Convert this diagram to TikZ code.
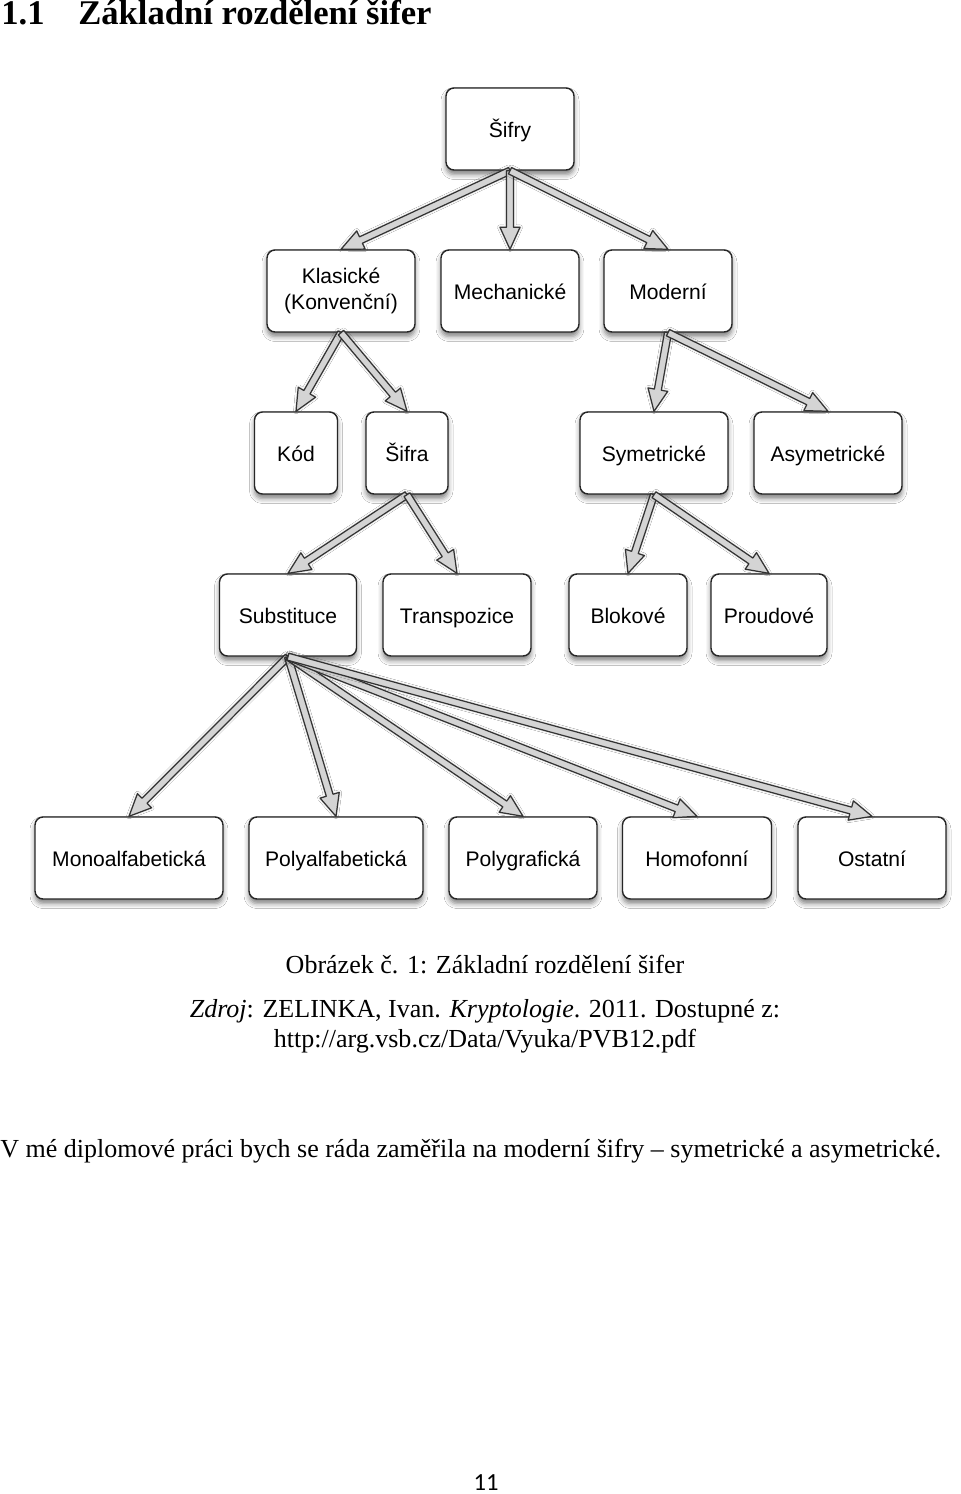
\documentclass[tikz,border=0pt]{standalone}
\usepackage{fontspec}
\setmainfont{Liberation Serif}
\newfontfamily\boxfont{Liberation Sans}
\newfontfamily\pagefont{Carlito}
\usetikzlibrary{calc,shadows.blur}
\tikzset{
  boxbase/.style={draw=black!85, line width=0.8pt, rounded corners=0.16cm, fill=white,
    minimum height=1.64cm, align=center, font=\boxfont\fontsize{12}{14.8}\selectfont,
    blur shadow={shadow xshift=0cm, shadow yshift=-0.09cm, shadow blur radius=0.1cm, shadow opacity=50}},
  box/.style={boxbase, text height=9.6pt, text depth=0pt},
  fatline/.style={draw=black!80, line width=0.7pt, fill=black!17, line join=round,
    blur shadow={shadow xshift=0cm, shadow yshift=0cm, shadow blur radius=0.05cm, shadow opacity=25}},
  bodytext/.style={inner sep=0pt, anchor=base, font=\fontsize{14.8}{17}\selectfont},
}
\def\fatarrow(#1)(#2){%
  \coordinate (h) at ($(#2)!0.44cm!(#1)$);
  \draw[fatline] ($(#1)!0.07cm!90:(#2)$) -- ($(h)!0.07cm!-90:(#1)$) -- ($(h)!0.2cm!-90:(#1)$) -- (#2)
    -- ($(h)!0.2cm!90:(#1)$) -- ($(h)!0.07cm!90:(#1)$) -- ($(#1)!0.07cm!-90:(#2)$) -- cycle;}

\begin{document}
\begin{tikzpicture}[x=0.02cm, y=-0.02cm]
		%%%%% PAGE %%%%%
		\fill[white] (0,0) rectangle (960,1494);
		\useasboundingbox (0,0) rectangle (960,1494);
		
		\node[inner sep=0pt, anchor=base west, font=\bfseries\fontsize{19.7}{22}\selectfont] (secnum) at (1,25) {1.1};
		\node[inner sep=0pt, anchor=base west, font=\bfseries\fontsize{19.7}{22}\selectfont] (sectitle) at (78,25) {Základní rozdělení šifer};
		
		%%%%% BOXES %%%%%
		\node[box, minimum width=2.56cm] (sifry) at (510,129) {Šifry};
		
		\node[boxbase, minimum width=2.96cm] (klas) at (341,291) {Klasické\\(Konvenční)};
		\node[box, minimum width=2.76cm] (mech) at (510,291) {Mechanické};
		\node[box, minimum width=2.56cm] (mod) at (668,291) {Moderní};
		
		\node[box, minimum width=1.66cm] (kod) at (296,453) {Kód};
		\node[box, minimum width=1.64cm] (sifra) at (407,453) {Šifra};
		\node[box, minimum width=2.96cm] (sym) at (654,453) {Symetrické};
		\node[box, minimum width=2.96cm] (asym) at (828,453) {Asymetrické};
		
		\node[box, minimum width=2.74cm] (subst) at (288,615) {Substituce};
		\node[box, minimum width=2.96cm] (transp) at (457,615) {Transpozice};
		\node[box, minimum width=2.36cm] (blok) at (628,615) {Blokové};
		\node[box, minimum width=2.32cm] (proud) at (769,615) {Proudové};
		
		\node[box, minimum width=3.76cm] (mono) at (129,858) {Monoalfabetická};
		\node[box, minimum width=3.48cm] (polyalf) at (336,858) {Polyalfabetická};
		\node[box, minimum width=2.96cm] (polygr) at (523,858) {Polygrafická};
		\node[box, minimum width=2.98cm] (homo) at (697,858) {Homofonní};
		\node[box, minimum width=2.96cm] (ost) at (872,858) {Ostatní};
		
		%%%%% ARROWS %%%%%
		\foreach \child in {klas,mech,mod} {\fatarrow(sifry.south)(\child.north)}
		\foreach \child in {kod,sifra} {\fatarrow(klas.south)(\child.north)}
		\foreach \child in {sym,asym} {\fatarrow(mod.south)(\child.north)}
		\foreach \child in {subst,transp} {\fatarrow(sifra.south)(\child.north)}
		\foreach \child in {blok,proud} {\fatarrow(sym.south)(\child.north)}
		\foreach \child in {mono,polyalf,polygr,homo,ost} {\fatarrow(subst.south)(\child.north)}
		
		%%%%% CAPTION %%%%%
		\node[bodytext] (caption) at (485,973) {Obrázek č. 1: Základní rozdělení šifer};
		\node[bodytext] (source) at (485,1017) {\textit{Zdroj}: ZELINKA, Ivan. \textit{Kryptologie}. 2011. Dostupné z:};
		\node[bodytext] (url) at (485,1047) {http://arg.vsb.cz/Data/Vyuka/PVB12.pdf};
		
		\node[bodytext, anchor=base west] (body) at (0,1157) {V mé diplomové práci bych se ráda zaměřila na moderní šifry -- symetrické a asymetrické.};
		
		\node[inner sep=0pt, anchor=base, font=\pagefont\fontsize{14}{16}\selectfont] (pagenum) at (486,1490) {11};
		%%%%% END %%%%%
	\end{tikzpicture}
\end{document}
